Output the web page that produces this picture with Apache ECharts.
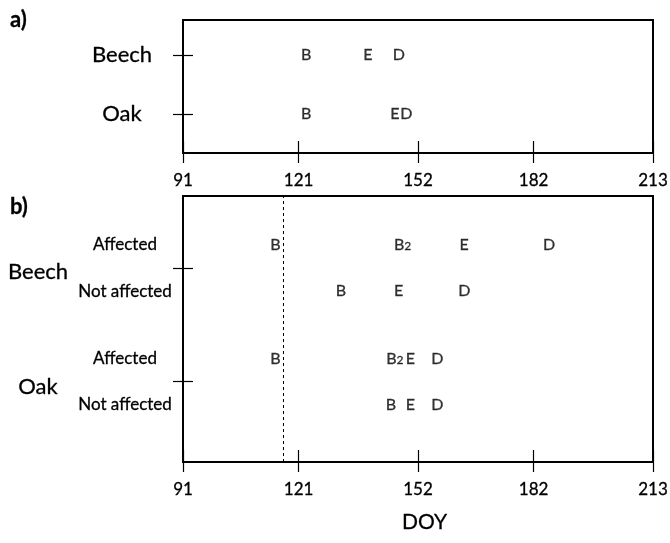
<!DOCTYPE html>
<html>
<head>
<meta charset="utf-8">
<script src="https://cdn.jsdelivr.net/npm/echarts@6/dist/echarts.min.js"></script>
<style>html,body{margin:0;padding:0;background:#fff}#main{width:670px;height:543px}</style>
</head>
<body>
<div id="main"></div>
<script>
// ---- data ----
const xTicks = [91, 121, 152, 182, 213];
const cutoffDOY = 117;

// panel a
const panelASpecies = ['Beech', 'Oak'];
const panelALevels = [2, 1];
const panelA_B = [123, 123];
const panelA_E = [139, 146];
const panelA_D = [147, 149];

// panel b
const panelBSpecies = ['Beech', 'Oak'];
const panelBSpeciesLevels = [3.95, 1.5];
const panelBSpeciesLabelLevels = [3.86, 1.39];
const panelBRows = ['Affected', 'Not affected', 'Affected', 'Not affected'];
const panelBLevels = [4.45, 3.45, 2, 1];
const panelB_B = [115, 132, 115, 145];
const panelB_B2 = [148, null, 146, null];
const panelB_E = [164, 147, 150, 150];
const panelB_D = [186, 164, 157, 157];

// ---- chart ----
const FONT = 'Lato';
const INK = { color: '#000', textBorderColor: '#000', textBorderWidth: 0.3 };
const chart = echarts.init(document.getElementById('main'));

function nearestLabel(v, levels, names) {
  let best = 0, bd = Infinity;
  levels.forEach((l, i) => { const d = Math.abs(l - v); if (d < bd) { bd = d; best = i; } });
  return names[best];
}

function xAxisPair(gridIndex) {
  const base = {
    type: 'value', min: 91, max: 213, gridIndex, position: 'bottom',
    axisLine: { show: false, onZero: false }, splitLine: { show: false }
  };
  return [
    Object.assign({}, base, {
      axisTick: { show: true, customValues: xTicks, length: 10, inside: false, lineStyle: { color: '#000', width: 1.2 } },
      axisLabel: Object.assign({ show: true, customValues: xTicks, margin: 19, fontSize: 17, fontFamily: FONT }, INK)
    }),
    Object.assign({}, base, {
      axisTick: { show: true, customValues: xTicks, length: 12, inside: true, lineStyle: { color: '#000', width: 1.2 } },
      axisLabel: { show: false }
    })
  ];
}

function letterSeries(name, xs, levels, xi, yi, formatter, rich) {
  return {
    type: 'scatter', name, xAxisIndex: xi, yAxisIndex: yi,
    symbolSize: 1, itemStyle: { color: 'rgba(0,0,0,0)' }, silent: true, z: 5,
    data: xs.map((x, i) => x == null ? null : [x, levels[i]]).filter(Boolean),
    label: Object.assign({
      show: true, position: 'inside', formatter: formatter || name,
      fontFamily: FONT, fontSize: 16, rich: rich
    }, INK)
  };
}

const b2Rich = {
  m: Object.assign({ fontSize: 16, fontFamily: FONT }, INK),
  s: Object.assign({ fontSize: 12, fontFamily: FONT, padding: [3, 0, 0, 0] }, INK)
};

const yBase = { type: 'value', position: 'left', axisLine: { show: false, onZero: false }, splitLine: { show: false } };
const tickStyle = { color: '#000', width: 1.2 };

const option = {
  backgroundColor: '#fff',
  animation: false,
  textStyle: { fontFamily: FONT },
  title: [
    { text: 'a)', left: 10, top: 9, padding: 0, textStyle: Object.assign({ fontFamily: FONT, fontWeight: 'bold', fontSize: 22 }, INK) },
    { text: 'b)', left: 10, top: 196, padding: 0, textStyle: Object.assign({ fontFamily: FONT, fontWeight: 'bold', fontSize: 22 }, INK) },
    { text: 'DOY', left: 402, top: 512, padding: 0, textStyle: Object.assign({ fontFamily: FONT, fontWeight: 'normal', fontSize: 21 }, INK) }
  ],
  grid: [
    { left: 183, right: 17, top: 20, height: 133, show: true, borderColor: '#000', borderWidth: 2, backgroundColor: 'transparent', containLabel: false, outerBoundsMode: 'none' },
    { left: 183, right: 17, top: 196, height: 266, show: true, borderColor: '#000', borderWidth: 2, backgroundColor: 'transparent', containLabel: false, outerBoundsMode: 'none' }
  ],
  xAxis: [].concat(xAxisPair(0), xAxisPair(1)),
  yAxis: [
    // 0: panel a labels + outer ticks
    Object.assign({}, yBase, {
      gridIndex: 0, min: 0.34, max: 2.59,
      axisTick: { show: true, customValues: panelALevels, length: 10, lineStyle: tickStyle },
      axisLabel: Object.assign({
        show: true, customValues: panelALevels, align: 'center', margin: 61,
        fontSize: 22, fontFamily: FONT,
        formatter: v => nearestLabel(v, panelALevels, panelASpecies)
      }, INK)
    }),
    // 1: panel a inner ticks
    Object.assign({}, yBase, {
      gridIndex: 0, min: 0.34, max: 2.59,
      axisTick: { show: true, customValues: panelALevels, length: 10, inside: true, lineStyle: tickStyle },
      axisLabel: { show: false }
    }),
    // 2: panel b row labels
    Object.assign({}, yBase, {
      gridIndex: 1, min: -0.23, max: 5.5,
      axisTick: { show: false },
      axisLabel: Object.assign({
        show: true, customValues: panelBLevels, align: 'center', margin: 58,
        fontSize: 17, fontFamily: FONT,
        formatter: v => nearestLabel(v, panelBLevels, panelBRows)
      }, INK)
    }),
    // 3: panel b species outer ticks
    Object.assign({}, yBase, {
      gridIndex: 1, min: -0.23, max: 5.5,
      axisTick: { show: true, customValues: panelBSpeciesLevels, length: 10, lineStyle: tickStyle },
      axisLabel: { show: false }
    }),
    // 4: panel b inner ticks
    Object.assign({}, yBase, {
      gridIndex: 1, min: -0.23, max: 5.5,
      axisTick: { show: true, customValues: panelBSpeciesLevels, length: 10, inside: true, lineStyle: tickStyle },
      axisLabel: { show: false }
    }),
    // 5: panel b species labels
    Object.assign({}, yBase, {
      gridIndex: 1, min: -0.23, max: 5.5,
      axisTick: { show: false },
      axisLabel: Object.assign({
        show: true, customValues: panelBSpeciesLabelLevels, align: 'center', margin: 145,
        fontSize: 22, fontFamily: FONT,
        formatter: v => nearestLabel(v, panelBSpeciesLabelLevels, panelBSpecies)
      }, INK)
    })
  ],
  series: [
    letterSeries('B', panelA_B, panelALevels, 0, 0),
    letterSeries('E', panelA_E, panelALevels, 0, 0),
    letterSeries('D', panelA_D, panelALevels, 0, 0),
    Object.assign(letterSeries('B', panelB_B, panelBLevels, 2, 2), {
      markLine: {
        silent: true, symbol: ['none', 'none'], label: { show: false },
        lineStyle: { color: '#000', type: [3, 3], width: 1 },
        data: [{ xAxis: cutoffDOY }]
      }
    }),
    letterSeries('B2', panelB_B2, panelBLevels, 2, 2, '{m|B}{s|2}', b2Rich),
    letterSeries('E', panelB_E, panelBLevels, 2, 2),
    letterSeries('D', panelB_D, panelBLevels, 2, 2)
  ]
};
chart.setOption(option);
</script>
</body>
</html>
